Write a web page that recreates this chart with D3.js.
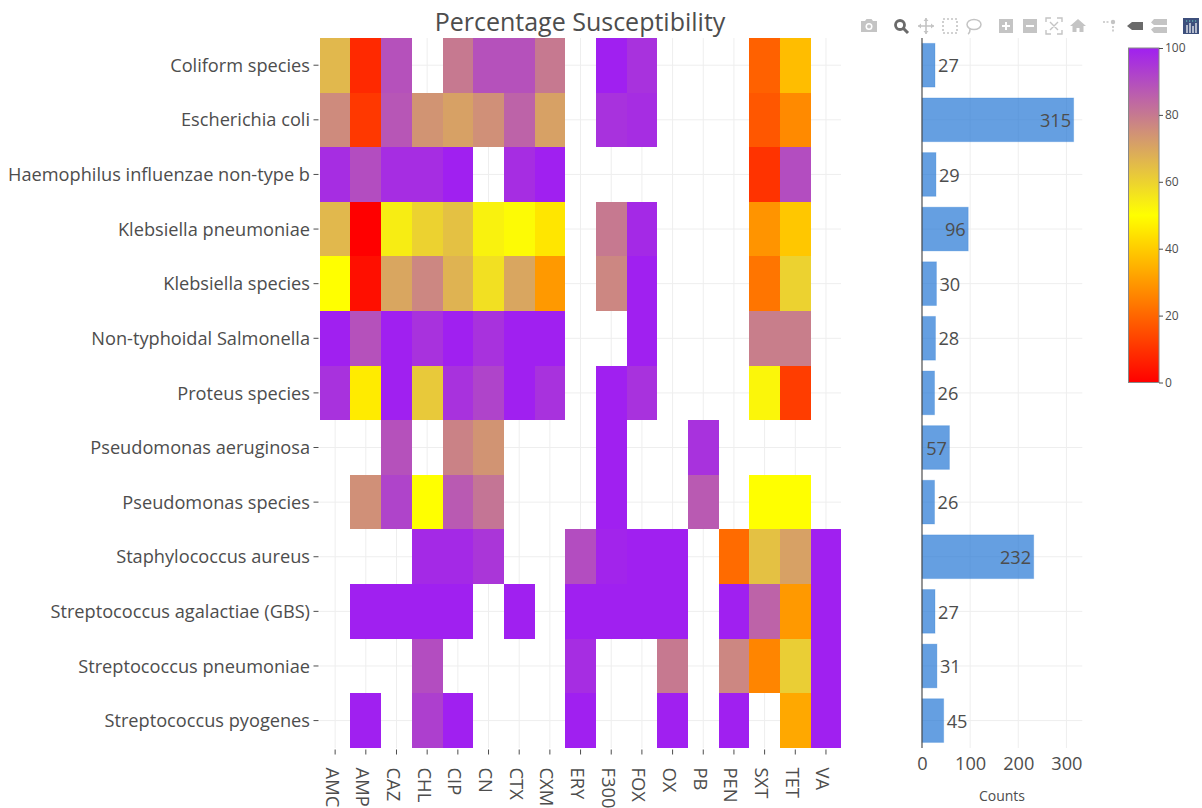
<!DOCTYPE html>
<html><head><meta charset="utf-8">
<script src="https://cdn.jsdelivr.net/npm/d3@7/dist/d3.min.js"></script>
<style>
html,body{margin:0;padding:0;background:#fff;overflow:hidden}
text{font-family:"Open Sans",sans-serif;fill:#4d4d4d}
</style></head><body>
<svg id="c" width="1202" height="808"></svg>
<script>
const drugs=["AMC","AMP","CAZ","CHL","CIP","CN","CTX","CXM","ERY","F300","FOX","OX","PB","PEN","SXT","TET","VA"];
const organisms=["Coliform species","Escherichia coli","Haemophilus influenzae non-type b","Klebsiella pneumoniae","Klebsiella species","Non-typhoidal Salmonella","Proteus species","Pseudomonas aeruginosa","Pseudomonas species","Staphylococcus aureus","Streptococcus agalactiae (GBS)","Streptococcus pneumoniae","Streptococcus pyogenes"];
const _=null;
const susceptibility=[
[66,8,89,_,80,89,89,80,_,100,96,_,_,_,19,37,_],
[76,11,88,74,71,75,85,71,_,96,97,_,_,_,17,27,_],
[97,90,97,97,100,_,97,100,_,_,_,_,_,_,10,90,_],
[66,0,54,60,64,53,51,45,_,80,98,_,_,_,29,39,_],
[50,3,70,77,67,57,70,30,_,77,100,_,_,_,23,60,_],
[100,89,100,96,100,96,100,100,_,_,100,_,_,_,79,79,_],
[96,46,100,62,96,92,100,96,_,100,96,_,_,_,52,12,_],
[_,_,89,_,78,74,_,_,_,100,_,_,96,_,_,_,_],
[_,75,92,50,87,81,_,_,_,100,_,_,87,_,50,50,_],
[_,_,_,98,98,95,_,_,90,99,100,100,_,21,64,71,100],
[_,100,100,100,100,_,100,_,100,100,100,100,_,100,85,30,100],
[_,_,_,90,_,_,_,_,97,_,_,80,_,77,26,61,100],
[_,100,_,93,100,_,_,_,100,_,_,100,_,100,_,33,100]];
const counts=[27,315,29,96,30,28,26,57,26,232,27,31,45];
const countTicks=[0,100,200,300];
const colorTicks=[0,20,40,60,80,100];
const titleText="Percentage Susceptibility";
const countsLabel="Counts";

const svg=d3.select("#c");
const grid="#eeeeee", ink="#4d4d4d", font='"Open Sans",sans-serif';
const x=d3.scaleBand().domain(drugs).range([319.8,841.3]);
const y=d3.scaleBand().domain(organisms).range([37.9,747.9]);
const color=d3.scaleLinear().domain([0,50,100]).range(["rgb(255,0,0)","rgb(255,255,0)","rgb(160,32,240)"]);
const bx=d3.scaleLinear().domain([0,333]).range([922,1082.3]);
const cy=d3.scaleLinear().domain([0,100]).range([382.5,48]);

// gridlines
const gl=svg.append("g").attr("stroke",grid).attr("stroke-width",1);
gl.selectAll(".gx").data(drugs).join("line").attr("x1",d=>x(d)+x.bandwidth()/2).attr("x2",d=>x(d)+x.bandwidth()/2).attr("y1",38).attr("y2",748);
gl.selectAll(".gy").data(organisms).join("line").attr("x1",319.5).attr("x2",841).attr("y1",d=>y(d)+y.bandwidth()/2).attr("y2",d=>y(d)+y.bandwidth()/2);
gl.selectAll(".hy").data(organisms).join("line").attr("x1",922).attr("x2",1082.3).attr("y1",d=>y(d)+y.bandwidth()/2).attr("y2",d=>y(d)+y.bandwidth()/2);
gl.selectAll(".hx").data(countTicks.slice(1)).join("line").attr("x1",d=>bx(d)).attr("x2",d=>bx(d)).attr("y1",38).attr("y2",748);

// heatmap
const cells=organisms.flatMap((o,i)=>drugs.map((d,j)=>({o,d,v:susceptibility[i][j]}))).filter(c=>c.v!==null);
svg.append("g").attr("shape-rendering","crispEdges").selectAll("rect").data(cells).join("rect")
 .attr("x",c=>x(c.d)).attr("y",c=>y(c.o)).attr("width",x.bandwidth()).attr("height",y.bandwidth())
 .attr("fill",c=>color(c.v));

// axes of heatmap
const ax=svg.append("g").attr("transform","translate(0,749.5)").call(d3.axisBottom(x).tickSize(5).tickSizeOuter(0));
ax.select(".domain").remove();
ax.selectAll("line").attr("stroke",ink);
ax.selectAll("text").attr("transform","rotate(90)").attr("text-anchor","start").attr("dominant-baseline","central")
 .attr("x",18).attr("y",2).attr("dy",null).style("font-size","18.4px").style("font-family",font).attr("fill",ink);
const ay=svg.append("g").attr("transform","translate(318.5,0)").call(d3.axisLeft(y).tickSize(5).tickSizeOuter(0));
ay.select(".domain").remove();
ay.selectAll("line").attr("stroke",ink);
ay.selectAll("text").attr("x",-8.5).attr("y",0.8).style("font-size","18.2px").style("font-family",font).attr("fill",ink);

// bars
const rowBand=y.bandwidth()*0.8, rowOff=y.bandwidth()*0.1;
svg.append("g").selectAll("rect").data(organisms).join("rect")
 .attr("x",bx(0)).attr("y",d=>y(d)+rowOff).attr("width",(d,i)=>bx(counts[i])-bx(0)).attr("height",rowBand)
 .attr("fill","rgb(35,118,212)").attr("fill-opacity",.7).attr("stroke","rgb(35,118,212)").attr("stroke-opacity",.25);
svg.append("g").selectAll("text").data(organisms).join("text")
 .attr("x",(d,i)=>counts[i]>=57?bx(counts[i])-2.5:bx(counts[i])+3)
 .attr("y",d=>y(d)+y.bandwidth()/2+0.6).attr("dy","0.36em")
 .attr("text-anchor",(d,i)=>counts[i]>=57?"end":"start").style("font-size","18.2px")
 .text((d,i)=>counts[i]);
svg.append("line").attr("x1",bx(0)).attr("x2",bx(0)).attr("y1",38).attr("y2",748).attr("stroke",ink).attr("stroke-width",1.2);
const abx=svg.append("g").attr("transform","translate(0,748)").call(d3.axisBottom(bx).tickValues(countTicks).tickSize(0).tickFormat(d3.format("d")));
abx.select(".domain").remove();
abx.selectAll("text").attr("y",9).style("font-size","18.2px").style("font-family",font).attr("fill",ink);
svg.append("text").attr("x",1002).attr("y",800.5).attr("text-anchor","middle").style("font-size","14px").text(countsLabel);

// title
svg.append("text").attr("x",580).attr("y",31).attr("text-anchor","middle").style("font-size","25px").text(titleText);

// colorbar
const defs=svg.append("defs");
const lg=defs.append("linearGradient").attr("id","cb").attr("x1",0).attr("x2",0).attr("y1",1).attr("y2",0);
lg.selectAll("stop").data(d3.range(0,101,5)).join("stop").attr("offset",d=>d+"%").attr("stop-color",d=>color(d));
svg.append("rect").attr("x",1128.5).attr("y",48).attr("width",30.5).attr("height",334.5).attr("fill","url(#cb)").attr("stroke","#888").attr("stroke-width",1);
const acb=svg.append("g").attr("transform","translate(1159,0)").call(d3.axisRight(cy).tickValues(colorTicks).tickSize(4).tickSizeOuter(0));
acb.select(".domain").remove();
acb.selectAll("line").attr("stroke",ink);
acb.selectAll("text").attr("x",6).style("font-size","12px").style("font-family",font).attr("fill",ink);

// modebar
const bar=svg.append("g").attr("fill","#c4c4c4");
const at=(px,py=26)=>bar.append("g").attr("transform",`translate(${px},${py})`);
let g=at(869); g.append("path").attr("d","M-8,-5H-4L-2.5,-7H2.5L4,-5H8V6H-8Z"); g.append("circle").attr("cy",.5).attr("r",3.5).attr("fill","#fff"); g.append("circle").attr("cy",.5).attr("r",2);
g=at(901); g.append("circle").attr("cx",-1).attr("cy",-1).attr("r",4.5).attr("fill","none").attr("stroke","#6a6a6a").attr("stroke-width",2.8); g.append("path").attr("d","M2,2L7,7").attr("stroke","#6a6a6a").attr("stroke-width",3);
g=at(926); g.append("path").attr("d","M0,-8V8M-8,0H8").attr("stroke","#c4c4c4").attr("stroke-width",1.6); g.append("path").attr("d","M0,-8L-2.5,-5H2.5ZM0,8L-2.5,5H2.5ZM-8,0L-5,-2.5V2.5ZM8,0L5,-2.5V2.5Z");
g=at(950); g.append("rect").attr("x",-7).attr("y",-7).attr("width",14).attr("height",14).attr("fill","none").attr("stroke","#c4c4c4").attr("stroke-width",1.6).attr("stroke-dasharray","2 2");
g=at(974); g.append("ellipse").attr("cy",-1.5).attr("rx",7).attr("ry",5).attr("fill","none").attr("stroke","#c4c4c4").attr("stroke-width",1.5); g.append("path").attr("d","M-4,3Q-4,7,-6,8").attr("fill","none").attr("stroke","#c4c4c4").attr("stroke-width",1.5);
g=at(1006); g.append("rect").attr("x",-7).attr("y",-7).attr("width",14).attr("height",14); g.append("path").attr("d","M-4,0H4M0,-4V4").attr("stroke","#fff").attr("stroke-width",2);
g=at(1030); g.append("rect").attr("x",-7).attr("y",-7).attr("width",14).attr("height",14); g.append("path").attr("d","M-4,0H4").attr("stroke","#fff").attr("stroke-width",2);
g=at(1054); g.append("path").attr("d","M-8,-4V-8H-3M3,-8H8V-4M8,4V8H3M-3,8H-8V4M-4,-4L4,4M4,-4L-4,4").attr("fill","none").attr("stroke","#c4c4c4").attr("stroke-width",1.4);
g=at(1078); g.append("path").attr("d","M0,-7L8,0H5.5V6H1.5V2H-1.5V6H-5.5V0H-8Z");
g=at(1110); g.append("circle").attr("cx",3).attr("cy",-4).attr("r",2.2); g.append("path").attr("d","M-7,-4H0M3,0V7").attr("stroke","#c4c4c4").attr("stroke-width",1.6).attr("stroke-dasharray","2 1.5");
g=at(1135); g.append("path").attr("d","M-8,0L-3,-4H8V4H-3Z").attr("fill","#6a6a6a");
g=at(1159); g.append("path").attr("d","M-8,-3.5L-5,-7H8V-1H-5ZM-8,3.5L-5,1H8V7H-5Z");
g=at(1191); g.append("rect").attr("x",-8).attr("y",-8).attr("width",16).attr("height",16).attr("fill","#3d4f7c");
g.append("path").attr("d","M-4,7V-1M-1,7V-3M2,7V0M5,7V-3").attr("stroke","#fff").attr("stroke-width",1.2);
g.append("path").attr("d","M-5,-5H6").attr("stroke","#6fd5c5").attr("stroke-width",1.2).attr("stroke-dasharray","1.2 1.8");
</script></body></html>
